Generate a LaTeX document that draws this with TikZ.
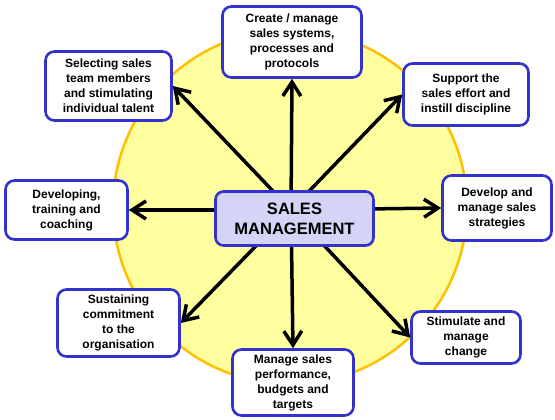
\documentclass[tikz,border=0pt]{standalone}
\usepackage{fontspec}
\setmainfont{Liberation Sans}
\usetikzlibrary{arrows.meta}
\definecolor{disc}{HTML}{FFFF9F}
\definecolor{discrim}{HTML}{FFC000}
\definecolor{boxline}{HTML}{3333CC}
\definecolor{hubfill}{HTML}{D4D4F6}
\begin{document}
\begin{tikzpicture}[x=1pt,y=-1pt]
    \tikzstyle{task}=[draw=boxline, line width=2.6pt, fill=white, rounded corners=9pt,
        align=center, inner sep=2pt, font=\fontsize{12}{15}\selectfont\bfseries]
    \tikzstyle{hubbox}=[task, fill=hubfill, rounded corners=8pt,
        font=\fontsize{16.5}{20}\selectfont\bfseries]
    \tikzstyle{ray}=[line width=3.5pt, -{Straight Barb[length=14pt,width=18pt]}]
    \useasboundingbox (0,0) rectangle (555,420);

    % Draw circle
    \draw[fill=disc, draw=discrim, line width=2.5pt] (290,207) circle (177);
    \coordinate (hub) at (291,210);

    % Add surrounding tasks clockwise from top
    \node[task, minimum width=139pt, minimum height=71pt] (create) at (292,42)
        {Create / manage\\sales systems,\\processes and\\protocols};
    \node[task, minimum width=125pt, minimum height=62pt] (support) at (466,94.5)
        {Support the\\sales effort and\\instill discipline};
    \node[task, minimum width=109pt, minimum height=65pt] (strategy) at (497,208)
        {Develop and\\manage sales\\strategies};
    \node[task, minimum width=109pt, minimum height=52pt] (change) at (466,337.5)
        {Stimulate and\\manage\\change};
    \node[task, minimum width=121pt, minimum height=66pt] (perform) at (293,382.5)
        {Manage sales\\performance,\\budgets and\\targets};
    \node[task, minimum width=122pt, minimum height=67pt] (commit) at (118.5,323)
        {Sustaining\\commitment\\to the\\organisation};
    \node[task, minimum width=122pt, minimum height=59pt] (coach) at (66.5,210)
        {Developing,\\training and\\coaching};
    \node[task, minimum width=126pt, minimum height=69pt] (select) at (108.5,86)
        {Selecting sales\\team members\\and stimulating\\individual talent};

    % Add arrows from the hub
    \draw[ray] (hub) -- (create.south);
    \draw[ray] (hub) -- (support.west);
    \draw[ray] (hub) -- (strategy.west);
    \draw[ray] (hub) -- (change.west);
    \draw[ray] (hub) -- (perform.north);
    \draw[ray] (hub) -- (commit.east);
    \draw[ray] (hub) -- (coach.east);
    \draw[ray] (hub) -- (select.east);

    % Add centre box on top
    \node[hubbox, minimum width=158pt, minimum height=54pt] (sales) at (294.5,218.5)
        {SALES\\MANAGEMENT};
\end{tikzpicture}
\end{document}
